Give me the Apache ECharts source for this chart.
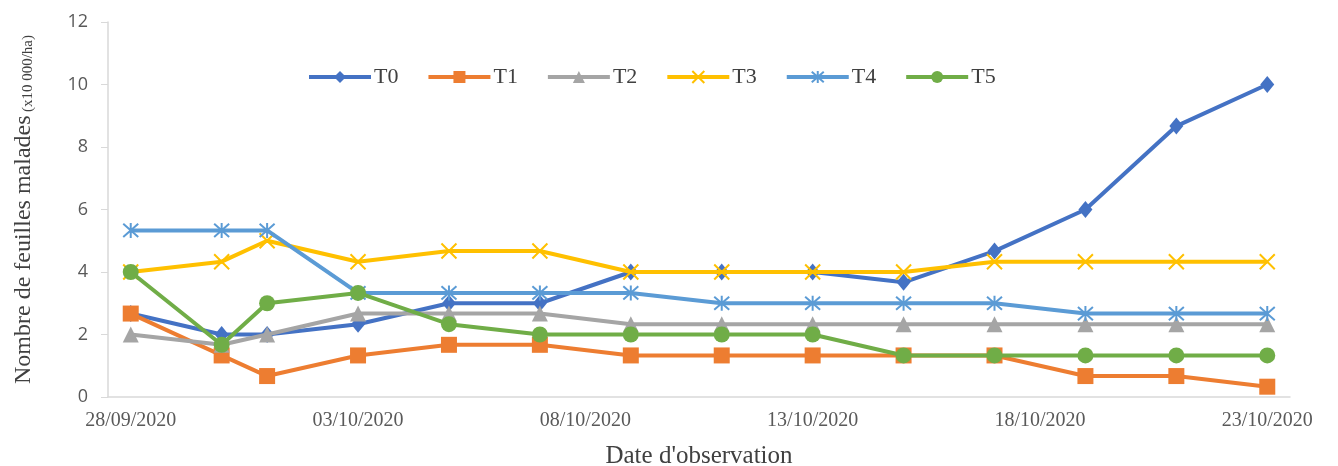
<!DOCTYPE html>
<html>
<head>
<meta charset="utf-8">
<script src="https://cdn.jsdelivr.net/npm/echarts@6/dist/echarts.min.js"></script>
<style>
  html, body { margin: 0; padding: 0; background: #fff; }
  #chart { width: 1338px; height: 466px; }
</style>
</head>
<body>
<div id="chart"></div>
<script>
// Every calendar day of the survey period (one category per day)
const days = [
  '28/09/2020', '29/09/2020', '30/09/2020', '01/10/2020', '02/10/2020',
  '03/10/2020', '04/10/2020', '05/10/2020', '06/10/2020', '07/10/2020',
  '08/10/2020', '09/10/2020', '10/10/2020', '11/10/2020', '12/10/2020',
  '13/10/2020', '14/10/2020', '15/10/2020', '16/10/2020', '17/10/2020',
  '18/10/2020', '19/10/2020', '20/10/2020', '21/10/2020', '22/10/2020',
  '23/10/2020'
];

// Days on which the plots were observed
const observationDates = [
  '28/09/2020', '30/09/2020', '01/10/2020', '03/10/2020', '05/10/2020',
  '07/10/2020', '09/10/2020', '11/10/2020', '13/10/2020', '15/10/2020',
  '17/10/2020', '19/10/2020', '21/10/2020', '23/10/2020'
];

// Diseased leaves (x10 000/ha) per treatment
const t0 = [2.67, 2, 2, 2.33, 3, 3, 4, 4, 4, 3.67, 4.67, 6, 8.67, 10];
const t1 = [2.67, 1.33, 0.67, 1.33, 1.67, 1.67, 1.33, 1.33, 1.33, 1.33, 1.33, 0.67, 0.67, 0.33];
const t2 = [2, 1.67, 2, 2.67, 2.67, 2.67, 2.33, 2.33, 2.33, 2.33, 2.33, 2.33, 2.33, 2.33];
const t3 = [4, 4.33, 5, 4.33, 4.67, 4.67, 4, 4, 4, 4, 4.33, 4.33, 4.33, 4.33];
const t4 = [5.33, 5.33, 5.33, 3.33, 3.33, 3.33, 3.33, 3, 3, 3, 3, 2.67, 2.67, 2.67];
const t5 = [4, 1.67, 3, 3.33, 2.33, 2, 2, 2, 2, 1.33, 1.33, 1.33, 1.33, 1.33];

const seriesNames = ['T0', 'T1', 'T2', 'T3', 'T4', 'T5'];
const seriesValues = [t0, t1, t2, t3, t4, t5];

const colors = ['#4472C4', '#ED7D31', '#A5A5A5', '#FFC000', '#5B9BD5', '#70AD47'];

const crossPath = 'path://M0,0L10,10M10,0L0,10';
const starPath = 'path://M5,0L5,10M0.6,0.6L9.4,9.4M9.4,0.6L0.6,9.4';

const markers = [
  { symbol: 'diamond', size: [14, 17], stroke: false },
  { symbol: 'rect', size: 16, stroke: false },
  { symbol: 'triangle', size: 16, stroke: false },
  { symbol: crossPath, size: 15, stroke: true },
  { symbol: starPath, size: 15, stroke: true },
  { symbol: 'circle', size: 16, stroke: false }
];

// Spread each series over the daily axis; unobserved days stay empty
function toDaily(values) {
  const out = days.map(() => null);
  observationDates.forEach((d, i) => {
    out[days.indexOf(d)] = values[i];
  });
  return out;
}

const serif = '"Liberation Serif", "DejaVu Serif", serif';

const series = seriesNames.map((name, i) => ({
  name: name,
  type: 'line',
  data: toDaily(seriesValues[i]),
  connectNulls: true,
  symbol: markers[i].symbol,
  symbolSize: markers[i].size,
  showAllSymbol: true,
  lineStyle: { color: colors[i], width: 4 },
  itemStyle: markers[i].stroke
    ? { color: colors[i], borderColor: colors[i], borderWidth: 2 }
    : { color: colors[i], borderWidth: 0 },
  emphasis: { disabled: true },
  z: 2 + i
}));

const chart = echarts.init(document.getElementById('chart'), null, { renderer: 'canvas' });

chart.setOption({
  animation: false,
  backgroundColor: '#ffffff',
  color: colors,
  grid: {
    left: 108, right: 48, top: 22, bottom: 69,
    containLabel: false,
    outerBoundsMode: 'none'
  },
  legend: {
    data: seriesNames,
    left: 302,
    top: 61,
    itemWidth: 62,
    itemHeight: 15,
    itemGap: 28,
    lineStyle: { width: 4 },
    textStyle: { fontFamily: serif, fontSize: 22, color: '#404040', padding: [0, 0, 0, -2] }
  },
  xAxis: {
    type: 'category',
    data: days,
    boundaryGap: true,
    name: "Date d'observation",
    nameLocation: 'middle',
    nameGap: 47,
    nameTextStyle: { fontFamily: serif, fontSize: 25, color: '#404040' },
    axisLine: { lineStyle: { color: '#d9d9d9', width: 1.5 } },
    axisTick: { show: false },
    axisLabel: {
      interval: 4,
      margin: 14,
      fontFamily: serif,
      fontSize: 20,
      color: '#595959'
    },
    splitLine: { show: false }
  },
  yAxis: {
    type: 'value',
    min: 0,
    max: 12,
    interval: 2,
    name: '{main|Nombre de feuilles malades} {sub|(x10 000/ha)}',
    nameLocation: 'middle',
    nameGap: 72,
    nameRotate: 90,
    nameTextStyle: {
      rich: {
        main: { fontFamily: serif, fontSize: 24, color: '#404040' },
        sub: { fontFamily: serif, fontSize: 15, color: '#404040', verticalAlign: 'bottom', padding: [4, 0, 0, 0] }
      }
    },
    axisLine: { show: true, lineStyle: { color: '#d9d9d9', width: 1.5 } },
    axisTick: { show: true, inside: false, length: 7, lineStyle: { color: '#d9d9d9' } },
    axisLabel: {
      margin: 20,
      fontFamily: '"Open Sans", sans-serif',
      fontSize: 18,
      color: '#595959'
    },
    splitLine: { show: false }
  },
  series: series
});
</script>
</body>
</html>
